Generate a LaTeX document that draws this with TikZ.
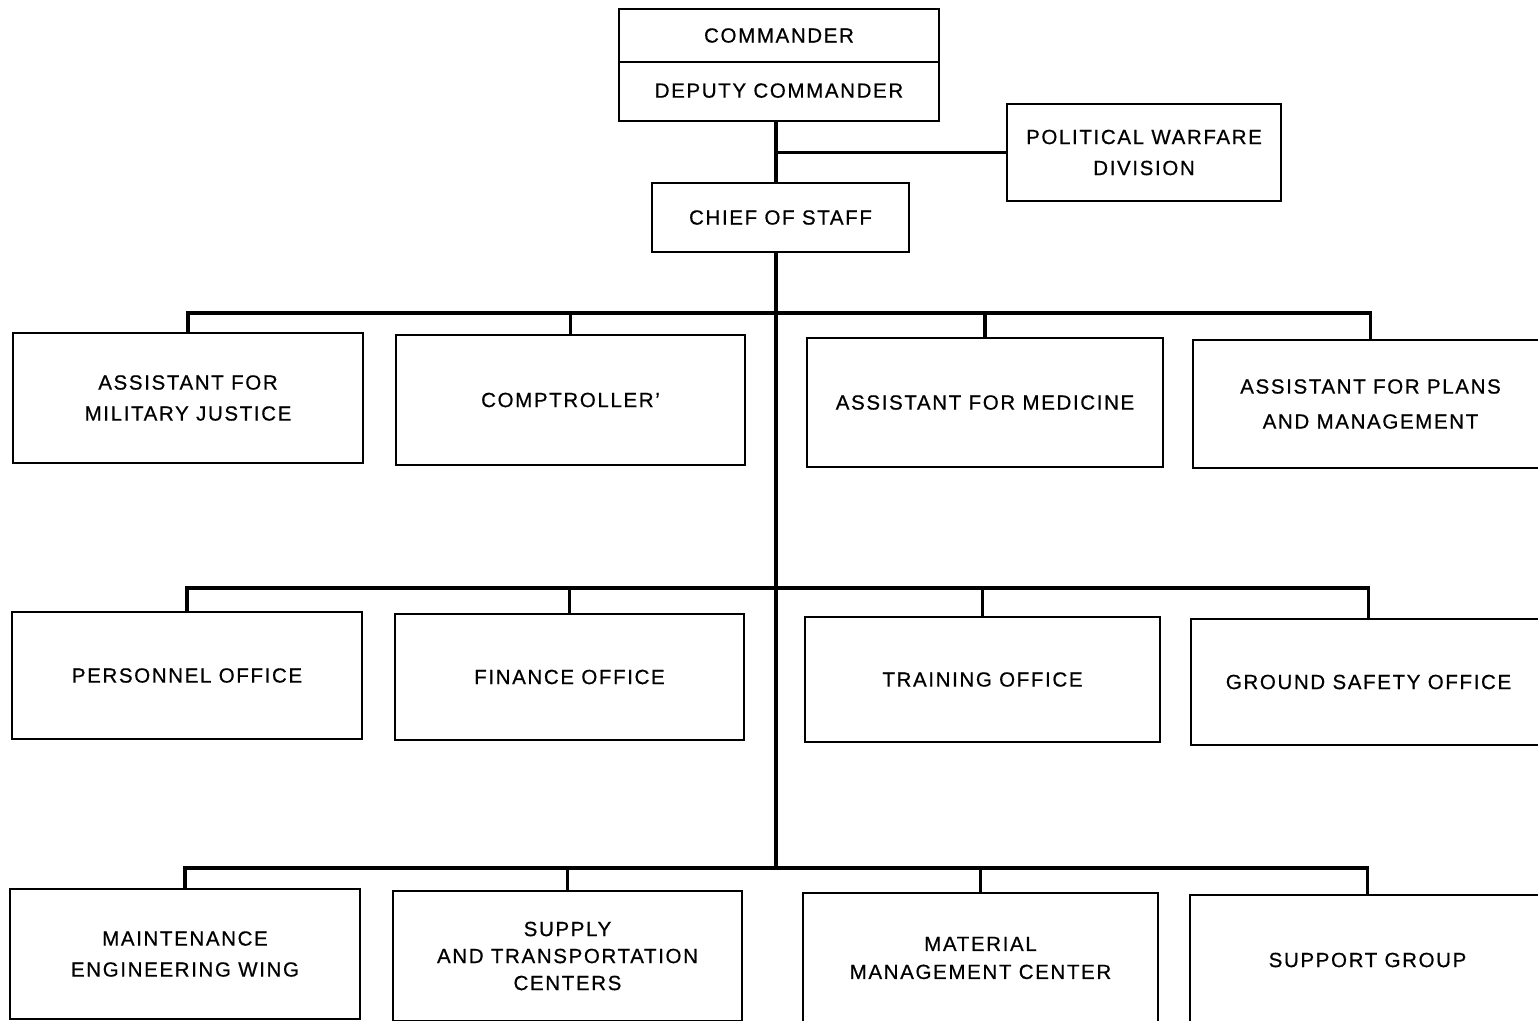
\documentclass[tikz,border=0pt]{standalone}
\usepackage{fontspec}
\setmainfont{Liberation Sans}[LetterSpace=8,FakeBold=0.6]
\begin{document}
\begin{tikzpicture}[x=1pt,y=-1pt,
  box/.style={draw, line width=2.9pt, inner sep=0pt, align=center,
    font=\fontsize{20.5}{31}\selectfont},
  link/.style={line width=3.4pt}]
\useasboundingbox (0,0) rectangle (1538,1020);
\clip (0,0) rectangle (1538,1020);
\fill[white] (0,0) rectangle (1538,1020);
% top
\node[box, minimum width=320, minimum height=53] (cmd) at (779,35.5) {\raisebox{-3pt}{COMMANDER}};
\node[box, minimum width=320, minimum height=59] (dep) at (779,91.5) {\raisebox{2pt}{DEPUTY COMMANDER}};
\node[box, minimum width=274, minimum height=97] (pw) at (1144,152.5) {POLITICAL WARFARE\\DIVISION};
\node[box, minimum width=257, minimum height=69] (cos) at (780.5,217.5) {CHIEF OF STAFF};
\coordinate (spine) at (776,0);
\coordinate (b1) at (776,313);
\coordinate (b2) at (776,588);
\coordinate (b3) at (776,868);
% row 1
\node[box, minimum width=350, minimum height=130] (A) at (188,398) {ASSISTANT FOR\\MILITARY JUSTICE};
\node[box, minimum width=349, minimum height=130] (B) at (570.5,400) {COMPTROLLER’};
\node[box, minimum width=356, minimum height=129] (C) at (985,402.5) {ASSISTANT FOR MEDICINE};
\node[box, minimum width=355, minimum height=128, font=\fontsize{20.5}{35}\selectfont] (D) at (1370.5,404) {ASSISTANT FOR PLANS\\AND MANAGEMENT};
% row 2
\node[box, minimum width=350, minimum height=127] (E) at (187,675.5) {PERSONNEL OFFICE};
\node[box, minimum width=349, minimum height=126] (F) at (569.5,677) {FINANCE OFFICE};
\node[box, minimum width=355, minimum height=125] (G) at (982.5,679.5) {TRAINING OFFICE};
\node[box, minimum width=355, minimum height=126] (H) at (1368.5,682) {GROUND SAFETY OFFICE};
% row 3
\node[box, minimum width=350, minimum height=130] (I) at (185,954) {MAINTENANCE\\ENGINEERING WING};
\node[box, minimum width=349, minimum height=130, font=\fontsize{20.5}{27}\selectfont] (J) at (567.5,956) {SUPPLY\\AND TRANSPORTATION\\CENTERS};
\node[box, minimum width=355, minimum height=130, font=\fontsize{20.5}{28}\selectfont] (K) at (980.5,958) {MATERIAL\\MANAGEMENT CENTER};
\node[box, minimum width=355, minimum height=130] (L) at (1367.5,960) {SUPPORT GROUP};
% connectors
\draw[link] (spine |- dep.south) -- (spine |- cos.north);
\draw[link] (spine |- pw.west) -- (pw.west);
\draw[link] (spine |- cos.south) -- (b3);
\foreach \bus/\a/\b/\c/\d in {b1/A/B/C/D, b2/E/F/G/H, b3/I/J/K/L}{
  \draw[link] (\a.north) -- (\a.north |- \bus) -- (\d.north |- \bus) -- (\d.north);
  \draw[link] (\b.north) -- (\b.north |- \bus);
  \draw[link] (\c.north) -- (\c.north |- \bus);
}
\end{tikzpicture}
\end{document}
